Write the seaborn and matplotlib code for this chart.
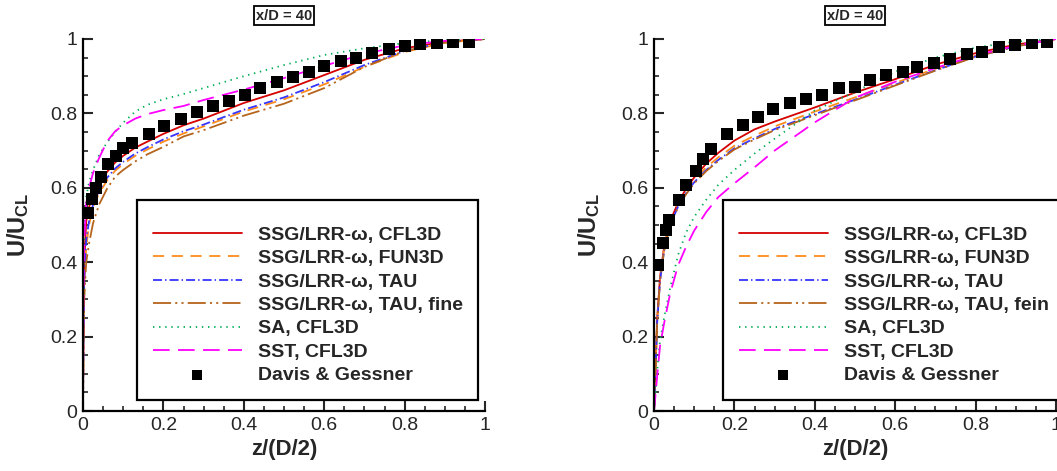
import numpy as np
import pandas as pd
import seaborn as sns
import matplotlib.pyplot as plt
from matplotlib.ticker import MultipleLocator, FuncFormatter

sns.set_theme(style='ticks')
plt.rcParams['font.family'] = ['Liberation Sans', 'DejaVu Sans']
plt.rcParams['mathtext.fontset'] = 'custom'
plt.rcParams['mathtext.bf'] = 'Liberation Sans:bold'
plt.rcParams['mathtext.rm'] = 'Liberation Sans'
plt.rcParams['lines.scale_dashes'] = False

# common z/(D/2) grid of the computed profiles
z_grid = [0, 0.001, 0.003, 0.008, 0.015, 0.025, 0.04, 0.06, 0.08, 0.1, 0.13,
          0.16, 0.2, 0.25, 0.3, 0.4, 0.5, 0.6, 0.7, 0.8, 0.9, 1.0]

# ---- left panel
left_cfl3d = [0, 0.22, 0.40, 0.51, 0.548, 0.580, 0.610, 0.643, 0.668, 0.686, 0.708,
              0.724, 0.745, 0.768, 0.786, 0.828, 0.862, 0.903, 0.944, 0.975, 0.993, 1.0]
left_fun3d = [0, 0.17, 0.33, 0.44, 0.50, 0.548, 0.585, 0.620, 0.646, 0.664, 0.686,
              0.703, 0.724, 0.746, 0.765, 0.805, 0.838, 0.878, 0.925, 0.965, 0.990, 1.0]
left_tau = [0, 0.18, 0.35, 0.46, 0.51, 0.555, 0.592, 0.627, 0.652, 0.670, 0.692,
            0.709, 0.730, 0.752, 0.770, 0.810, 0.843, 0.884, 0.930, 0.968, 0.991, 1.0]
left_tau_fine = [0, 0.15, 0.30, 0.40, 0.45, 0.505, 0.555, 0.598, 0.630, 0.648, 0.671,
                 0.690, 0.710, 0.738, 0.755, 0.794, 0.826, 0.868, 0.925, 0.968, 0.990, 1.0]
left_sa = [0, 0.33, 0.50, 0.575, 0.615, 0.648, 0.688, 0.722, 0.750, 0.775, 0.805,
           0.823, 0.838, 0.852, 0.868, 0.900, 0.930, 0.957, 0.975, 0.989, 0.997, 1.0]
left_sst = [0, 0.28, 0.46, 0.558, 0.60, 0.640, 0.680, 0.725, 0.752, 0.768, 0.786,
            0.798, 0.809, 0.820, 0.836, 0.864, 0.895, 0.928, 0.960, 0.983, 0.995, 1.0]
left_exp_z = [0.013, 0.023, 0.032, 0.044, 0.063, 0.082, 0.100, 0.121, 0.163, 0.202,
              0.244, 0.283, 0.324, 0.364, 0.403, 0.440, 0.482, 0.523, 0.561, 0.600,
              0.642, 0.679, 0.718, 0.761, 0.801, 0.838, 0.880, 0.921, 0.961]
left_exp_u = [0.531, 0.569, 0.599, 0.630, 0.663, 0.686, 0.708, 0.720, 0.744, 0.765,
              0.785, 0.805, 0.819, 0.833, 0.850, 0.867, 0.885, 0.899, 0.912, 0.927,
              0.941, 0.949, 0.963, 0.972, 0.981, 0.987, 0.988, 0.991, 0.993]

# ---- right panel
right_cfl3d = [0, 0.03, 0.09, 0.25, 0.36, 0.44, 0.51, 0.56, 0.598, 0.628, 0.665,
               0.694, 0.727, 0.757, 0.778, 0.816, 0.856, 0.892, 0.931, 0.962, 0.985, 1.0]
right_fun3d = [0, 0.03, 0.09, 0.245, 0.355, 0.435, 0.505, 0.556, 0.592, 0.622, 0.655,
               0.682, 0.713, 0.740, 0.765, 0.805, 0.843, 0.882, 0.920, 0.955, 0.981, 1.0]
right_tau = [0, 0.03, 0.09, 0.24, 0.35, 0.43, 0.50, 0.550, 0.586, 0.615, 0.648,
             0.675, 0.706, 0.733, 0.758, 0.798, 0.837, 0.877, 0.916, 0.953, 0.980, 1.0]
right_tau_fein = [0, 0.03, 0.09, 0.24, 0.35, 0.43, 0.50, 0.548, 0.583, 0.612, 0.645,
                  0.672, 0.703, 0.730, 0.755, 0.795, 0.835, 0.875, 0.915, 0.952, 0.980, 1.0]
right_sa = [0, 0.012, 0.04, 0.11, 0.19, 0.25, 0.33, 0.42, 0.48, 0.522, 0.568,
            0.608, 0.648, 0.692, 0.732, 0.808, 0.858, 0.912, 0.950, 0.977, 0.993, 1.0]
right_sst = [0, 0.01, 0.035, 0.095, 0.175, 0.235, 0.315, 0.392, 0.442, 0.485, 0.535,
             0.575, 0.612, 0.655, 0.700, 0.776, 0.842, 0.885, 0.922, 0.956, 0.982, 1.0]
right_exp_z = [0.011, 0.022, 0.030, 0.038, 0.062, 0.080, 0.104, 0.121, 0.142, 0.181,
               0.222, 0.258, 0.297, 0.338, 0.378, 0.417, 0.461, 0.500, 0.537, 0.576,
               0.619, 0.655, 0.697, 0.736, 0.778, 0.815, 0.857, 0.898, 0.940, 0.977]
right_exp_u = [0.392, 0.451, 0.487, 0.513, 0.567, 0.608, 0.645, 0.677, 0.704, 0.745,
               0.769, 0.789, 0.812, 0.829, 0.840, 0.849, 0.867, 0.872, 0.890, 0.903,
               0.912, 0.926, 0.936, 0.945, 0.961, 0.964, 0.979, 0.985, 0.988, 0.993]

labels_left = ['SSG/LRR-ω, CFL3D', 'SSG/LRR-ω, FUN3D', 'SSG/LRR-ω, TAU',
               'SSG/LRR-ω, TAU, fine', 'SA, CFL3D', 'SST, CFL3D']
labels_right = ['SSG/LRR-ω, CFL3D', 'SSG/LRR-ω, FUN3D', 'SSG/LRR-ω, TAU',
                'SSG/LRR-ω, TAU, fein', 'SA, CFL3D', 'SST, CFL3D']
exp_label = 'Davis & Gessner'

colors = ['#d40000', '#ff8c1a', '#3535ff', '#b5641c', '#00ad55', '#ff00ff']
styles = ['-', (0, (8, 5.5)), (0, (6.5, 2.2, 1, 2.2)),
          (0, (13, 3, 1.5, 3, 1.5, 3)), (0, (1, 3.4)), (0, (12, 6))]

fig = plt.figure(figsize=(10.57, 4.71), dpi=100)
ax_l = fig.add_axes([83 / 1057, 60 / 471, 402 / 1057, 372 / 471])
ax_r = fig.add_axes([654 / 1057, 60 / 471, 402 / 1057, 372 / 471])


def draw_panel(ax, curves, labels, exp_z, exp_u, legend_anchor, legend_loc):
    for yv, lab, c, ls in zip(curves, labels, colors, styles):
        sns.lineplot(x=z_grid, y=yv, ax=ax, color=c, linestyle=ls, lw=1.3,
                     label=lab, sort=False)
    sns.scatterplot(x=exp_z, y=exp_u, ax=ax, marker='s', color='black', s=75,
                    edgecolor='black', linewidth=0, label=exp_label, zorder=5)

    ax.set_xlim(0, 1)
    ax.set_ylim(0, 1)
    ax.xaxis.set_major_locator(MultipleLocator(0.2))
    ax.yaxis.set_major_locator(MultipleLocator(0.2))
    ax.xaxis.set_minor_locator(MultipleLocator(0.05))
    ax.yaxis.set_minor_locator(MultipleLocator(0.05))
    fmt = FuncFormatter(lambda v, p: '%g' % round(v, 2))
    ax.xaxis.set_major_formatter(fmt)
    ax.yaxis.set_major_formatter(fmt)
    ax.tick_params(which='major', direction='in', length=7, width=1.5,
                   labelsize=14, pad=4)
    ax.tick_params(which='minor', direction='in', length=3.5, width=1.2)
    for sp in ['top', 'right']:
        ax.spines[sp].set_visible(False)
    for sp in ['left', 'bottom']:
        ax.spines[sp].set_linewidth(1.6)
        ax.spines[sp].set_color('black')

    ax.set_xlabel('z/(D/2)', fontsize=16, fontweight='bold', labelpad=4)
    ax.set_ylabel(r'$\mathbf{U/U_{CL}}$', fontsize=17, labelpad=14)

    ax.set_title('x/D = 40', fontsize=10.5, fontweight='bold', pad=14,
                 bbox=dict(facecolor='white', edgecolor='black', lw=1.3,
                           boxstyle='square,pad=0.15'))

    handles, labs = ax.get_legend_handles_labels()
    leg = ax.legend(handles, labs, loc=legend_loc, bbox_to_anchor=legend_anchor,
                    borderaxespad=0, fancybox=False, framealpha=1,
                    edgecolor='black', handlelength=4.6, handletextpad=0.8,
                    labelspacing=0.3, borderpad=0.8, markerscale=0.8,
                    title=' ', title_fontsize=4,
                    prop={'weight': 'bold', 'size': 14})
    leg.get_frame().set_linewidth(1.6)


draw_panel(ax_l, [left_cfl3d, left_fun3d, left_tau, left_tau_fine, left_sa, left_sst],
           labels_left, left_exp_z, left_exp_u, (0.983, 0.03), 'lower right')
draw_panel(ax_r, [right_cfl3d, right_fun3d, right_tau, right_tau_fein, right_sa, right_sst],
           labels_right, right_exp_z, right_exp_u, (0.172, 0.03), 'lower left')

fig.savefig('out.png', dpi=100)
